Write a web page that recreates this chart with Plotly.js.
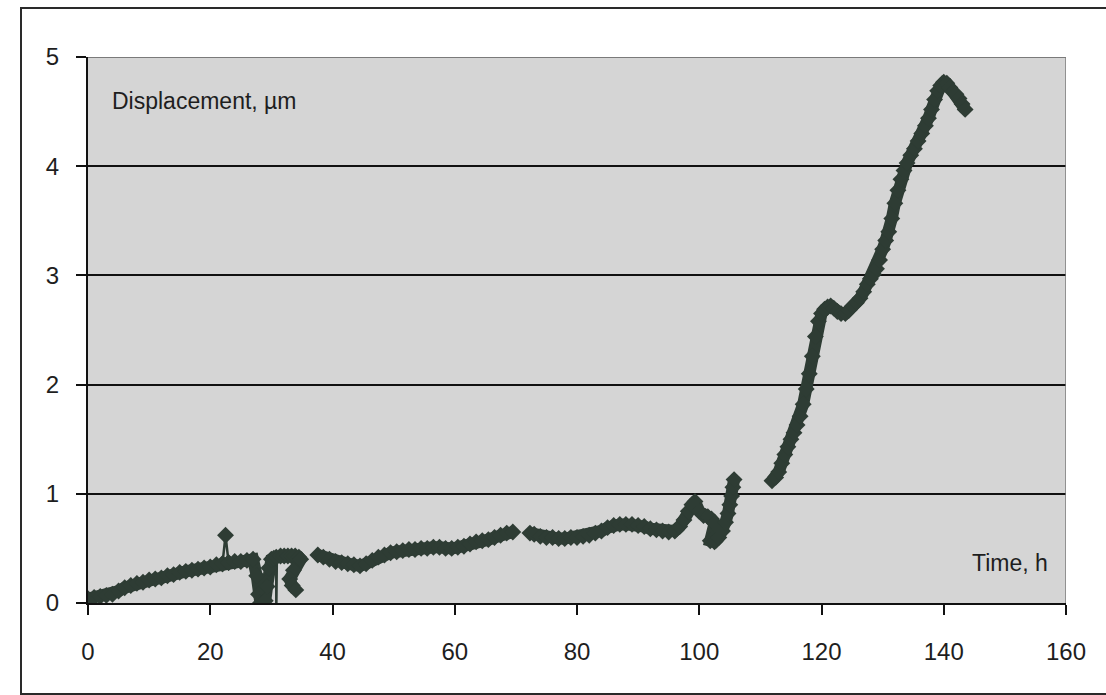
<!DOCTYPE html>
<html>
<head>
<meta charset="utf-8">
<script src="https://cdn.plot.ly/plotly-3.0.1.min.js"></script>
<style>
  html, body { margin: 0; padding: 0; background: #ffffff; }
  #wrap { position: relative; width: 1106px; height: 695px; overflow: hidden; }
  #chart { position: absolute; left: 0; top: 0; width: 1106px; height: 695px; }
  #frame { position: absolute; left: 20px; top: 7px; width: 1110px; height: 684px;
           border: 2px solid #2a2a2a; border-right: none; pointer-events: none; }
</style>
</head>
<body>
<div id="wrap">
  <div id="chart"></div>
  <div id="frame"></div>
</div>
<script>
// ---- data (Time, h  vs  Displacement, µm) ----
var seg1Time = [0,1,2,3,4,5,6,7,8,9,10,11,12,13,14,15,16,17,18,19,20,21,22,23,24,25,26,27,27.6,27.9,28.2,28.6,29.0,29.3,29.6,30.0,30.4,30.8,31.5,32.1,32.7,33.3,33.9,34.5,34.8,33.6,33.0,33.4,34.0];
var seg1Disp = [0.04,0.05,0.06,0.07,0.08,0.11,0.14,0.16,0.18,0.19,0.21,0.22,0.23,0.25,0.26,0.28,0.29,0.30,0.31,0.32,0.33,0.35,0.36,0.37,0.38,0.38,0.39,0.40,0.25,0.08,0.00,0.00,0.02,0.15,0.32,0.40,0.41,0.42,0.43,0.43,0.43,0.43,0.43,0.42,0.40,0.30,0.22,0.16,0.12];

// isolated readings joined to the band by a thin line
var spikeTime = [22, 22.5, 23];
var spikeDisp = [0.36, 0.62, 0.37];
var dropTime = [30.8, 30.8, 30.9];
var dropDisp = [0.41, -0.10, 0.42];

var seg2Time = [37.6,38.5,39.5,40.5,41.5,42.5,43.5,44.5,45.5,46.5,47.5,48.5,49.5,50.5,51.5,52.5,53.5,54.5,55.5,56.5,57.5,58.5,59.5,60.5,61.5,62.5,63.5,64.5,65.5,66.5,67.5,68.5,69.5];
var seg2Disp = [0.44,0.42,0.40,0.38,0.37,0.36,0.35,0.34,0.36,0.39,0.42,0.44,0.46,0.47,0.48,0.49,0.49,0.50,0.50,0.51,0.51,0.50,0.50,0.51,0.52,0.54,0.56,0.57,0.58,0.60,0.62,0.64,0.65];

var seg3Time = [72.3,73,74,75,76,77,78,79,80,81,82,83,84,85,86,87,88,89,90,91,92,93,94,95,96,96.8,97.5,98.2,98.8,99.3,100,100.7,101.4,102,102.5,101.8,102.5,103.2,103.8,104.3,104.7,105,105.3,105.5,105.7];
var seg3Disp = [0.64,0.63,0.61,0.60,0.60,0.59,0.59,0.60,0.60,0.61,0.62,0.64,0.66,0.69,0.71,0.72,0.72,0.72,0.71,0.70,0.68,0.67,0.66,0.65,0.66,0.70,0.76,0.84,0.90,0.93,0.84,0.80,0.79,0.77,0.73,0.57,0.56,0.60,0.66,0.74,0.82,0.90,0.98,1.06,1.13];

var seg4Time = [111.9,112.5,113,113.5,114,114.5,115,115.5,116,116.5,117,117.5,118,118.5,119,119.5,120,120.5,121,121.5,122,122.6,123.2,123.9,124.5,125.1,125.7,126.3,126.9,127.5,128,128.5,129,129.5,130,130.5,131,131.5,132,132.5,133,133.5,134,134.6,135.2,135.8,136.4,137,137.5,138,138.5,139,139.5,140,140.5,141,141.5,142,142.5,143,143.5];
var seg4Disp = [1.12,1.15,1.20,1.28,1.36,1.43,1.50,1.56,1.63,1.71,1.82,1.96,2.10,2.26,2.44,2.58,2.65,2.69,2.71,2.72,2.70,2.67,2.65,2.65,2.68,2.72,2.75,2.79,2.85,2.92,2.97,3.01,3.06,3.14,3.24,3.32,3.40,3.52,3.66,3.78,3.88,3.96,4.03,4.10,4.16,4.23,4.30,4.37,4.44,4.52,4.61,4.69,4.74,4.77,4.76,4.72,4.68,4.66,4.62,4.57,4.52];

var xTickVals = [0,20,40,60,80,100,120,140,160];
var xTickText = ['0','20','40','60','80','100','120','140','160'];
var yTickVals = [0,1,2,3,4,5];
var yTickText = ['0','1','2','3','4','5'];
var yLabel = 'Displacement, µm';
var xLabel = 'Time, h';

// join band segments with gaps
var timeAll = [].concat(seg1Time, [null], seg2Time, [null], seg3Time, [null], seg4Time);
var dispAll = [].concat(seg1Disp, [null], seg2Disp, [null], seg3Disp, [null], seg4Disp);

var ink = '#2e3c34';
var fontFam = '"Liberation Sans", Arial, sans-serif';

var thinTraces = [
  { x: spikeTime, y: spikeDisp, type: 'scatter', mode: 'lines+markers',
    line: { color: ink, width: 2.5 },
    marker: { symbol: 'diamond', size: 13, color: ink, opacity: 1, line: { width: 0 } },
    hoverinfo: 'x+y' },
  { x: dropTime, y: dropDisp, type: 'scatter', mode: 'lines',
    line: { color: ink, width: 2.5 }, hoverinfo: 'x+y' }
];

var band = {
  x: timeAll, y: dispAll,
  type: 'scatter', mode: 'lines+markers',
  connectgaps: false,
  line: { color: ink, width: 12, shape: 'linear' },
  marker: { symbol: 'diamond', size: 13, color: ink, opacity: 1, line: { width: 0 } },
  hoverinfo: 'x+y'
};

var layout = {
  width: 1106, height: 695,
  margin: { l: 88, r: 40, t: 57, b: 92, pad: 0 },
  paper_bgcolor: '#ffffff',
  plot_bgcolor: '#d5d5d5',
  showlegend: false,
  font: { family: fontFam, size: 24, color: '#1e1e1e' },
  xaxis: {
    range: [0, 160],
    tickvals: xTickVals, ticktext: xTickText,
    showgrid: false, zeroline: false,
    showline: true, linecolor: '#111111', linewidth: 2,
    ticks: 'outside', ticklen: 10, tickwidth: 2, tickcolor: '#111111',
    ticklabelstandoff: 16,
    tickfont: { family: fontFam, size: 24, color: '#1e1e1e' }
  },
  yaxis: {
    range: [0, 5],
    tickvals: yTickVals, ticktext: yTickText,
    showgrid: true, gridcolor: '#111111', gridwidth: 2,
    zeroline: false,
    showline: true, linecolor: '#111111', linewidth: 2,
    ticks: 'outside', ticklen: 10, tickwidth: 2, tickcolor: '#111111',
    ticklabelstandoff: 12,
    tickfont: { family: fontFam, size: 24, color: '#1e1e1e' }
  },
  shapes: [
    { type: 'line', xref: 'x', yref: 'y', x0: 0, x1: 160, y0: 5, y1: 5,
      line: { color: '#7a7a7a', width: 2 }, layer: 'above' },
    { type: 'line', xref: 'x', yref: 'y', x0: 160, x1: 160, y0: 0, y1: 5,
      line: { color: '#7a7a7a', width: 1.5 }, layer: 'above' }
  ],
  annotations: [
    { text: yLabel, xref: 'x', yref: 'y', x: 3.6, y: 4.6,
      xanchor: 'left', yanchor: 'middle', showarrow: false,
      font: { family: fontFam, size: 23, color: '#1e1e1e' } },
    { text: xLabel, xref: 'x', yref: 'y', x: 157.4, y: 0.37,
      xanchor: 'right', yanchor: 'middle', showarrow: false,
      font: { family: fontFam, size: 23, color: '#1e1e1e' } }
  ]
};

Plotly.newPlot('chart', thinTraces.concat([band]), layout, { staticPlot: true, displayModeBar: false });
</script>
</body>
</html>
